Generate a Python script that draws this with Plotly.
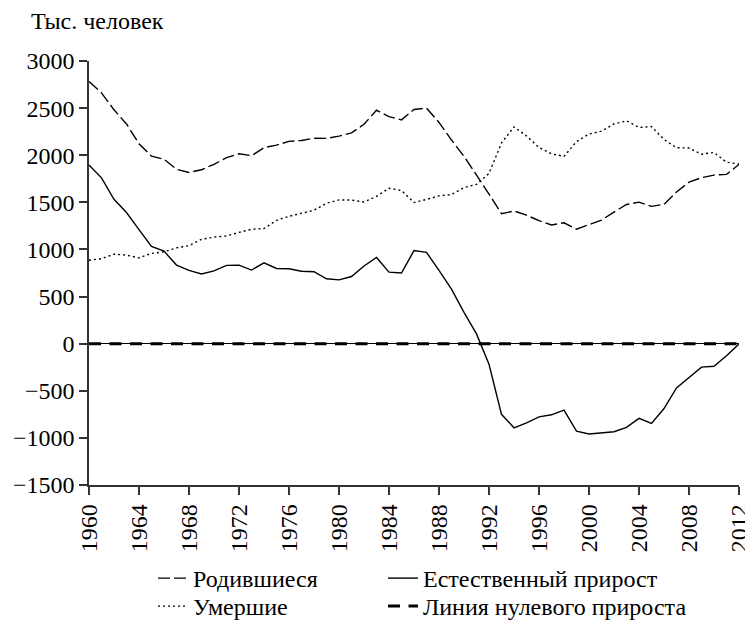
import plotly.graph_objects as go

years = list(range(1960, 2013))

births = [2782, 2662, 2482, 2332, 2121, 1990, 1957, 1851, 1817, 1846,
          1904, 1974, 2015, 1995, 2080, 2107, 2147, 2157, 2180, 2179,
          2203, 2237, 2328, 2478, 2409, 2375, 2486, 2500, 2348, 2161,
          1989, 1795, 1588, 1379, 1408, 1364, 1305, 1260, 1283, 1215,
          1267, 1312, 1397, 1477, 1502, 1457, 1479, 1610, 1714, 1762,
          1789, 1797, 1902]

deaths = [886, 902, 950, 940, 910, 958, 975, 1017, 1040, 1107,
          1131, 1143, 1181, 1214, 1222, 1309, 1352, 1388, 1416, 1490,
          1526, 1524, 1504, 1563, 1650, 1625, 1498, 1531, 1569, 1583,
          1656, 1691, 1807, 2129, 2301, 2204, 2082, 2015, 1988, 2144,
          2225, 2255, 2332, 2366, 2295, 2304, 2167, 2080, 2076, 2011,
          2029, 1926, 1906]

natural = [1896, 1760, 1532, 1392, 1211, 1032, 982, 834, 777, 739,
           773, 831, 834, 781, 858, 798, 795, 769, 764, 689,
           677, 713, 824, 915, 759, 750, 988, 969, 779, 578,
           333, 104, -219, -750, -893, -840, -777, -755, -705, -929,
           -958, -943, -935, -889, -793, -847, -688, -470, -362, -249,
           -240, -129, -4]

zero_years = [1960, 2012]
zero_vals = [0, 0]

FONT = "Liberation Serif, Times New Roman, Times, serif"
FS = 24
LFS = 24

fig = go.Figure()
fig.add_trace(go.Scatter(x=years, y=births, mode="lines", name="Родившиеся",
                         line=dict(color="black", width=1.4, dash="12px,4px"),
                         legend="legend"))
fig.add_trace(go.Scatter(x=years, y=deaths, mode="lines", name="Умершие",
                         line=dict(color="black", width=1.4, dash="2px,3px"),
                         legend="legend2"))
fig.add_trace(go.Scatter(x=years, y=natural, mode="lines", name="Естественный прирост",
                         line=dict(color="black", width=1.4),
                         legend="legend3"))
fig.add_trace(go.Scatter(x=zero_years, y=zero_vals, mode="lines",
                         name="Линия нулевого прироста",
                         line=dict(color="black", width=3, dash="12px,8.5px"),
                         legend="legend4"))

# page body adds an 8px offset; the figure is sized to fit inside it
W, H = 745, 613
L, T, PW, PH = 81, 53, 650, 424
B = H - T - PH
R = W - L - PW
BOT = T + PH
ROW1_TOP, ROW2_TOP = 548, 576
COL1_X, COL2_X = 145, 375


def leg(xpx, ypx):
    return dict(xref="paper", yref="paper", x=(xpx - L) / PW, y=(BOT - ypx) / PH,
                xanchor="left", yanchor="top", bgcolor="rgba(0,0,0,0)",
                font=dict(family=FONT, size=LFS, color="black"),
                tracegroupgap=0, itemwidth=30)


fig.update_layout(
    width=W, height=H,
    margin=dict(l=L, r=R, t=T, b=B, autoexpand=False),
    plot_bgcolor="white", paper_bgcolor="white",
    font=dict(family=FONT, size=FS, color="black"),
    showlegend=True,
    legend=leg(COL1_X, ROW1_TOP),
    legend2=leg(COL1_X, ROW2_TOP),
    legend3=leg(COL2_X, ROW1_TOP),
    legend4=leg(COL2_X, ROW2_TOP),
    annotations=[dict(text="Тыс. человек", xref="paper", yref="paper",
                      x=(21 - L) / PW, y=(BOT - 13) / PH,
                      xanchor="left", yanchor="middle", showarrow=False,
                      font=dict(family=FONT, size=FS, color="black"))],
)

fig.update_xaxes(range=[1960, 2012], tickmode="linear", tick0=1960, dtick=4,
                 tickangle=-90, showgrid=False, zeroline=False,
                 showline=True, linecolor="#333", linewidth=1.5,
                 ticks="outside", ticklen=8, tickwidth=1.5, tickcolor="#333",
                 tickfont=dict(family=FONT, size=FS, color="black"))
fig.update_yaxes(range=[-1500, 3000], tickmode="linear", tick0=-1500, dtick=500,
                 showgrid=False, zeroline=True, zerolinecolor="black", zerolinewidth=1,
                 showline=True, linecolor="#333", linewidth=1.5,
                 ticks="outside", ticklen=8, tickwidth=1.5, tickcolor="#333",
                 tickfont=dict(family=FONT, size=FS, color="black"))

fig.write_html("out.html")
